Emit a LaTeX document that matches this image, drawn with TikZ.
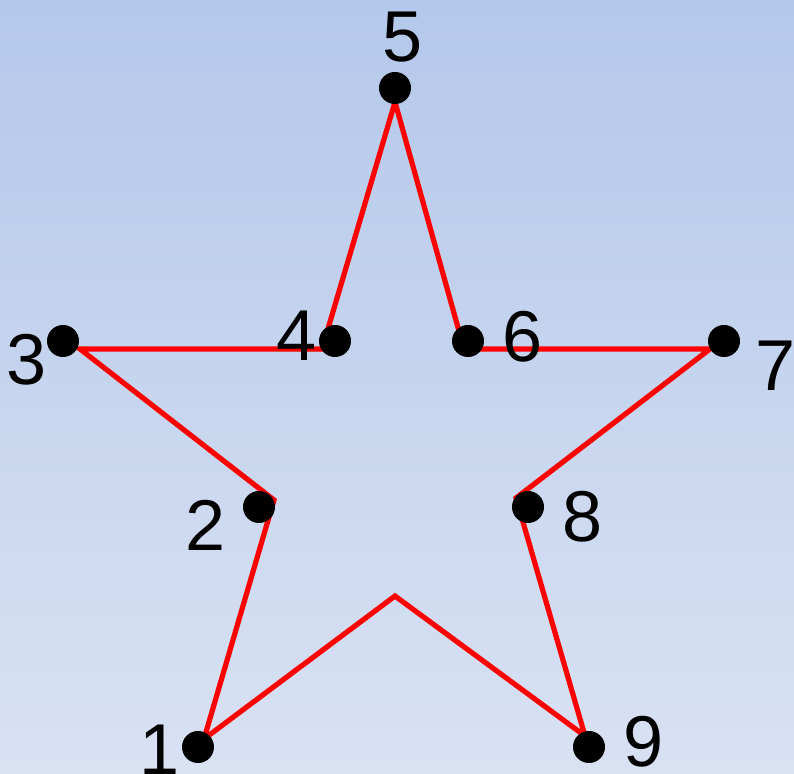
\documentclass[tikz,border=0pt]{standalone}
\usepackage{fontspec}
\setmainfont{Liberation Sans}
\usepackage{tikz}

\definecolor{skytop}{RGB}{180,200,234}
\definecolor{skybottom}{RGB}{217,226,243}
\definecolor{starred}{RGB}{255,0,0}

\tikzset{
  dot/.style={circle, fill=black, minimum size=16pt, inner sep=0pt},
  num/.style={inner sep=0pt, font=\fontsize{36}{40}\selectfont},
  starline/.style={starred, line width=2.6pt, line join=miter}
}

\begin{document}
\begin{tikzpicture}[x=0.5pt, y=-0.5pt]
    % Background
    \useasboundingbox (0,0) rectangle (794,774);
    \shade[top color=skytop, bottom color=skybottom] (0,0) rectangle (794,774);

    % Corners of the star
    \coordinate (c1) at (204,739); \coordinate (c2) at (274,500);
    \coordinate (c3) at (80,349);  \coordinate (c4) at (322,349);
    \coordinate (c5) at (395,102); \coordinate (c6) at (464,349);
    \coordinate (c7) at (710,349); \coordinate (c8) at (516,498);
    \coordinate (c9) at (585,736); \coordinate (c0) at (395,596);

    % Red outline
    \draw[starline] (c1) -- (c2) -- (c3) -- (c4) -- (c5) -- (c6) -- (c7)
        -- (c8) -- (c9) -- (c0) -- cycle;

    % Dots
    \node[dot] (p1) at (198,747) {}; \node[dot] (p2) at (259,507) {};
    \node[dot] (p3) at (63,341) {};  \node[dot] (p4) at (335,341) {};
    \node[dot] (p5) at (395,88) {};  \node[dot] (p6) at (468,341) {};
    \node[dot] (p7) at (724,341) {}; \node[dot] (p8) at (528,507) {};
    \node[dot] (p9) at (589,747) {};

    % Numbers
    \node[num] (n1) at (160,750) {1}; \node[num] (n2) at (206,525) {2};
    \node[num] (n3) at (27,360) {3};  \node[num] (n4) at (297,336) {4};
    \node[num] (n5) at (403,37) {5};  \node[num] (n6) at (523,337) {6};
    \node[num] (n7) at (776,366) {7}; \node[num] (n8) at (583,517) {8};
    \node[num] (n9) at (644,742) {9};
\end{tikzpicture}
\end{document}
